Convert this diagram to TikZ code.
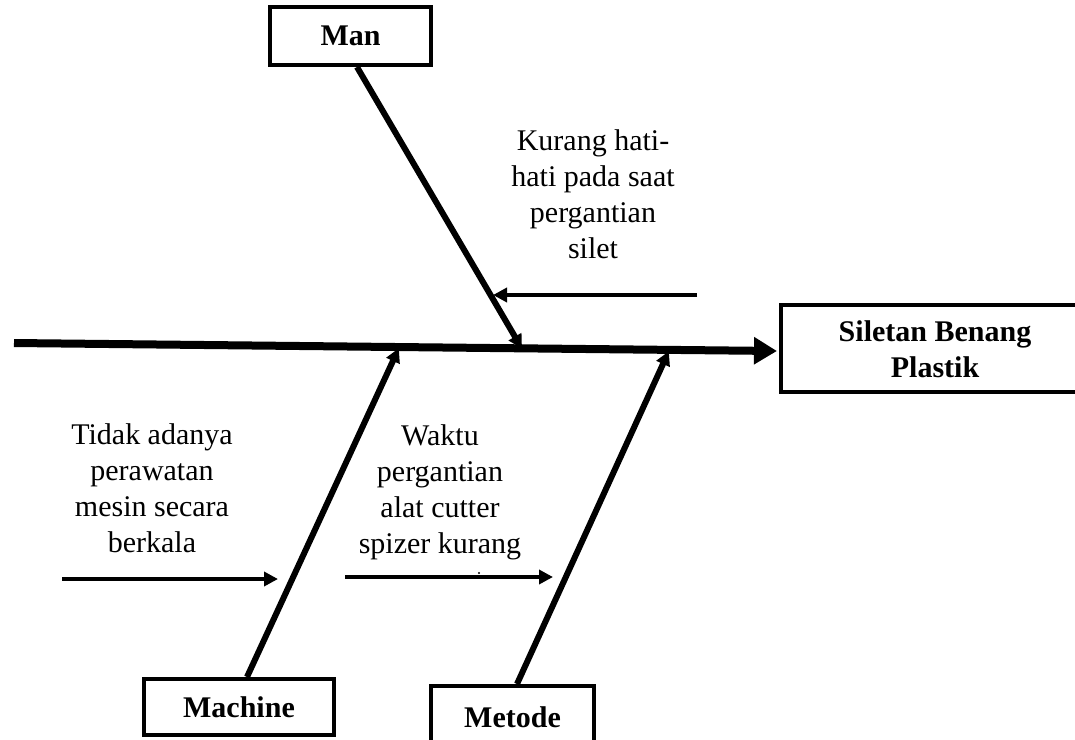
\documentclass[tikz,border=0pt]{standalone}
\usepackage{fontspec}
\setmainfont{Liberation Serif}
\usetikzlibrary{arrows.meta,calc}
\begin{document}
\begin{tikzpicture}[x=1pt,y=-1pt,
  catbox/.style={draw,line width=4pt,inner sep=0pt,font=\fontsize{30}{36}\selectfont\bfseries},
  causetext/.style={align=center,inner sep=0pt,font=\fontsize{30}{36}\selectfont},
  spine/.style={line width=8pt,-{Triangle[length=23pt,width=26pt]}},
  bone/.style={line width=6pt,-{Triangle[length=14pt,width=14pt]},shorten >=-2pt},
  causearrow/.style={line width=4pt,-{Triangle[length=14pt,width=14pt]}}]
\useasboundingbox (0,0) rectangle (1075,739);
\clip (0,0) rectangle (1075,739);
% boxes
\node[catbox,minimum width=161pt,minimum height=58pt] (man) at (350.5,36) {Man};
\node[catbox,minimum width=190pt,minimum height=56pt] (machine) at (239,707) {Machine};
\node[catbox,minimum width=163pt,minimum height=62pt] (metode) at (512.5,717) {Metode};
\node[draw,line width=4pt,minimum width=309pt,minimum height=87pt] (effect) at (935.5,348.5) {};
\node[causetext,font=\fontsize{30}{36}\selectfont\bfseries] (efftext) at (935,349) {Siletan Benang\\Plastik};
% spine
\coordinate (tail) at (14,343);
\coordinate (head) at (777,351);
\draw[spine] (tail) -- (head);
% bones
\coordinate (manend) at (521,347);
\coordinate (machend) at (398,350);
\coordinate (metend) at (668,353);
\draw[bone] ($(man.south)+(6.5,0)$) -- (manend);
\draw[bone] ($(machine.north)+(8,0)$) -- (machend);
\draw[bone] ($(metode.north)+(4.5,0)$) -- (metend);
% causes
\node[causetext] (c1) at (593,194) {Kurang hati-\\hati pada saat\\pergantian\\silet};
\node[causetext] (c2) at (152,488) {Tidak adanya\\perawatan\\mesin secara\\berkala};
\node[causetext] (c3) at (440,492) {Waktu\\pergantian\\alat cutter\\spizer kurang};
\coordinate (a1s) at (697,295);
\coordinate (a1e) at (493,295);
\coordinate (a2s) at (62,579);
\coordinate (a2e) at (278,579);
\coordinate (a3s) at (345,577);
\coordinate (a3e) at (553,577);
\draw[causearrow] (a1s) -- (a1e);
\draw[causearrow] (a2s) -- (a2e);
\draw[causearrow] (a3s) -- (a3e);
\fill (479,573) circle (1.1pt);
\end{tikzpicture}
\end{document}
